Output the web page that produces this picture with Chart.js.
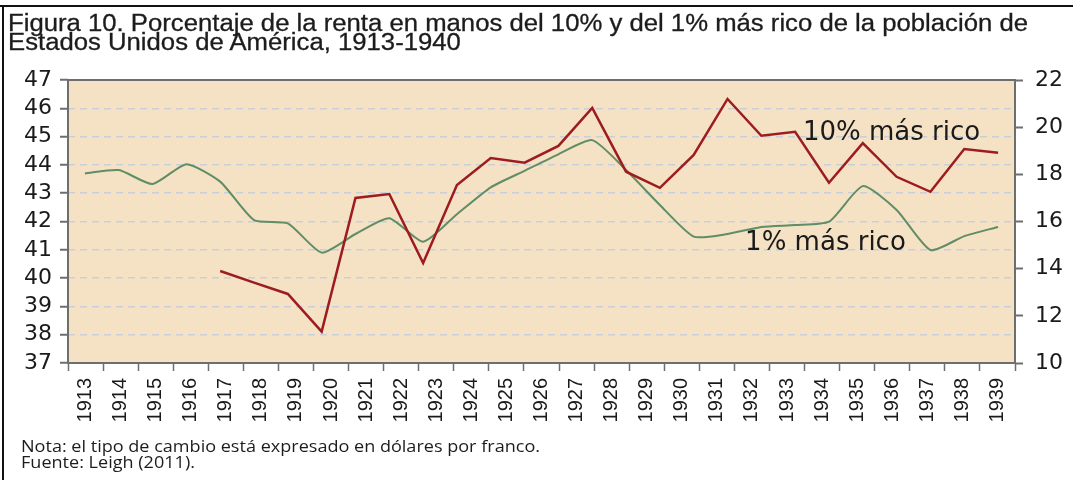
<!DOCTYPE html>
<html>
<head>
<meta charset="utf-8">
<script src="https://cdn.jsdelivr.net/npm/chart.js@4.4.1/dist/chart.umd.min.js"></script>
<style>
html,body{margin:0;padding:0;background:#fff;width:1075px;height:480px;overflow:hidden;}
#wrap{position:relative;width:1075px;height:480px;}
canvas{position:absolute;left:0;top:0;}
.t{position:absolute;white-space:nowrap;transform-origin:0 0;color:#1c1c1c;}
.title{font-family:"Liberation Sans",Arial,sans-serif;font-size:23px;line-height:23px;left:8px;-webkit-text-stroke:0.3px #1c1c1c;}
.note{font-family:"Open Sans",sans-serif;font-size:15.5px;line-height:15.5px;left:21px;}
#frameTop{position:absolute;left:0;top:5px;width:1073px;height:2px;background:#111;}
#frameLeft{position:absolute;left:2px;top:5px;width:2px;height:475px;background:#111;}
</style>
</head>
<body>
<div id="wrap">
  <canvas id="c" width="1075" height="480"></canvas>
  <div id="frameTop"></div>
  <div id="frameLeft"></div>
  <div class="t title" id="t1" style="top:12px">Figura 10. Porcentaje de la renta en manos del 10% y del 1% más rico de la población de</div>
  <div class="t title" id="t2" style="top:31px">Estados Unidos de América, 1913-1940</div>
  <div class="t note" id="n1" style="top:438.7px">Nota: el tipo de cambio está expresado en dólares por franco.</div>
  <div class="t note" id="n2" style="top:455.2px">Fuente: Leigh (2011).</div>
</div>
<script>
// ---- data ----
const years = ['1913','1914','1915','1916','1917','1918','1919','1920','1921','1922','1923','1924','1925','1926',
               '1927','1928','1929','1930','1931','1932','1933','1934','1935','1936','1937','1938','1939','1940'];
const xTickLabels = ['1913','1914','1915','1916','1917','1918','1919','1920','1921','1922','1923','1924','1925','1926',
                     '1927','1928','1929','1930','1931','1932','1933','1934','1935','1936','1937','1938','1939'];
// Top 10% income share (left axis, %)
const top10 = [null, null, null, null, 40.25, 39.84, 39.44, 38.11, 42.83, 42.97, 40.53, 43.29, 44.24, 44.08,
               44.67, 46.01, 43.76, 43.19, 44.35, 46.33, 45.03, 45.17, 43.37, 44.77, 43.58, 43.05, 44.56, 44.43];
// Top 1% income share (right axis, %)
const top1 = [18.04, 18.18, 17.59, 18.43, 17.69, 16.06, 15.92, 14.68, 15.47, 16.14, 15.14, 16.31, 17.45, 18.15,
              18.85, 19.45, 18.18, 16.70, 15.36, 15.47, 15.77, 15.85, 15.99, 17.50, 16.49, 14.79, 15.38, 15.77];
const leftTicks = [37, 38, 39, 40, 41, 42, 43, 44, 45, 46, 47];
const rightTicks = [10, 12, 14, 16, 18, 20, 22];
const seriesNames = ['10% más rico', '1% más rico'];

// ---- styles ----
const plotBg = '#F5E1C4';
const frameColor = '#6e6e6e';
const red = '#9C1C20';
const green = '#5F8D66';

const deco = {
  id: 'deco',
  beforeDraw(chart) {
    const {ctx, chartArea: a} = chart;
    ctx.save();
    ctx.fillStyle = plotBg;
    ctx.fillRect(a.left, a.top, a.right - a.left, a.bottom - a.top);
    ctx.restore();
  },
  beforeDatasetsDraw(chart) {
    const {ctx, chartArea: a} = chart;
    ctx.save();
    ctx.strokeStyle = frameColor;
    ctx.lineWidth = 2;
    ctx.strokeRect(a.left, a.top, a.right - a.left, a.bottom - a.top);
    ctx.restore();
  },
  afterDatasetsDraw(chart) {
    const {ctx} = chart;
    const xs = chart.scales.xd, ys = chart.scales.y;
    ctx.save();
    ctx.fillStyle = '#1a1a1a';
    ctx.font = '26px "DejaVu Sans", sans-serif';
    ctx.textBaseline = 'alphabetic';
    ctx.textAlign = 'left';
    ctx.fillText(seriesNames[0], xs.getPixelForValue(21.23), ys.getPixelForValue(44.88));
    ctx.fillText(seriesNames[1], xs.getPixelForValue(19.52), ys.getPixelForValue(40.99));
    ctx.restore();
  }
};

new Chart(document.getElementById('c'), {
  type: 'line',
  data: {
    labels: years,
    datasets: [
      { label: seriesNames[0], data: top10, xAxisID: 'xd', yAxisID: 'y',
        borderColor: red, borderWidth: 2.5, pointRadius: 0, tension: 0, fill: false, spanGaps: false },
      { label: seriesNames[1], data: top1, xAxisID: 'xd', yAxisID: 'y1',
        borderColor: green, borderWidth: 2, pointRadius: 0, tension: 0.2, fill: false }
    ]
  },
  options: {
    responsive: false,
    animation: false,
    devicePixelRatio: 1,
    layout: { padding: { top: 80, left: 0, right: 0, bottom: 0 } },
    plugins: { legend: { display: false }, tooltip: { enabled: false }, title: { display: false } },
    scales: {
      xd: { type: 'category', position: 'bottom', display: false, offset: true },
      x: {
        type: 'category', position: 'bottom', labels: xTickLabels, offset: true,
        grid: { display: true, drawOnChartArea: false, drawTicks: true, offset: true,
                tickLength: 8, tickColor: frameColor, tickWidth: 1.5, tickBorderDash: [] },
        border: { display: false },
        ticks: { autoSkip: false, minRotation: 90, maxRotation: 90, padding: 7, color: '#1a1a1a',
                 font: { family: '"Liberation Sans", Arial, sans-serif', size: 20 } },
        afterFit(s) { s.height = 117; }
      },
      y: {
        type: 'linear', position: 'left', min: 37, max: 47,
        afterBuildTicks(s) { s.ticks = leftTicks.map(v => ({ value: v })); },
        grid: { display: true, drawOnChartArea: true, color: '#C9CFD8', lineWidth: 1.5,
                tickLength: 8, tickColor: frameColor, tickWidth: 2, tickBorderDash: [] },
        border: { display: false, dash: [7, 5] },
        ticks: { autoSkip: false, padding: 8, color: '#1a1a1a', font: { family: '"DejaVu Sans", sans-serif', size: 22 } },
        afterFit(s) { s.width = 68; }
      },
      y1: {
        type: 'linear', position: 'right', min: 10, max: 22,
        afterBuildTicks(s) { s.ticks = rightTicks.map(v => ({ value: v })); },
        grid: { display: true, drawOnChartArea: false, tickLength: 8, tickColor: frameColor, tickWidth: 2, tickBorderDash: [] },
        border: { display: false },
        ticks: { autoSkip: false, padding: 12, color: '#1a1a1a', font: { family: '"DejaVu Sans", sans-serif', size: 22 } },
        afterFit(s) { s.width = 60; }
      }
    }
  },
  plugins: [deco]
});

// fit text widths to the reference
function fit(ids, target) {
  const first = document.getElementById(ids[0]);
  const s = target / first.getBoundingClientRect().width;
  ids.forEach(id => { document.getElementById(id).style.transform = 'scaleX(' + s + ')'; });
}
fit(['t1', 't2'], 1020);
fit(['n1', 'n2'], 519);
</script>
</body>
</html>
